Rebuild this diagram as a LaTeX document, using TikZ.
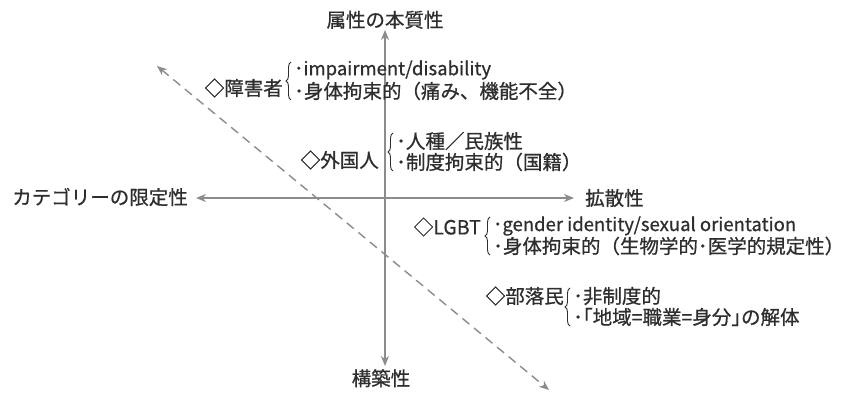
\documentclass[tikz,border=0pt]{standalone}
\usepackage{fontspec}
\setmainfont{Noto Sans CJK JP}
\newfontfamily\lblfont{Noto Sans CJK JP}[FakeBold=0.7]
\usetikzlibrary{arrows.meta,decorations.pathreplacing}
\definecolor{txt}{HTML}{2E2E2E}
\definecolor{axis}{HTML}{8C8C8C}
\tikzset{
  lbl/.style={inner sep=0pt, text=txt, font=\lblfont\fontsize{19.5}{22}\selectfont},
  latin/.style={lbl, font=\lblfont\fontsize{18.5}{22}\selectfont},
  axisline/.style={draw=axis, line width=1.4pt, -{Stealth[length=10pt,width=8pt]}},
  diag/.style={draw=axis, line width=1.4pt, dash pattern=on 9pt off 6pt, {Stealth[length=10pt,width=8pt]}-{Stealth[length=10pt,width=8pt]}},
  bracestyle/.style={draw=txt, line width=0.9pt, decorate, decoration={brace, amplitude=5pt}},
}
\begin{document}
\begin{tikzpicture}[x=1pt,y=-1pt]
\useasboundingbox[fill=white] (0,0) rectangle (844,393);
% axes
\coordinate (O) at (385,198);
\coordinate (top) at (385,30);
\coordinate (bot) at (385,366);
\coordinate (left) at (196,198);
\coordinate (right) at (574,198);
\draw[axisline] (O) -- (top);
\draw[axisline] (O) -- (bot);
\draw[axisline] (O) -- (left);
\draw[axisline] (O) -- (right);
\coordinate (d1) at (157,66);
\coordinate (d2) at (549,390);
\draw[diag] (d1) -- (d2);
% axis labels
\node[lbl, anchor=south] (ntop) at (385,29) {属性の本質性};
\node[lbl, anchor=north] (nbot) at (381,369) {構築性};
\node[lbl, anchor=east] (nleft) at (188,197) {カテゴリーの限定性};
\node[lbl, anchor=west] (nright) at (585,198) {拡散性};
% group 1: 障害者
\node[lbl, anchor=east] (g1) at (283,88) {◇障害者};
\node[latin, anchor=west] (g1a) at (294,70) {･impairment/disability};
\node[lbl, anchor=west] (g1b) at (294,91) {･身体拘束的（痛み、機能不全）};
\draw[bracestyle] (291,100) -- (291,62);
% group 2: 外国人
\node[lbl, anchor=east] (g2) at (379,160) {◇外国人};
\node[lbl, anchor=west] (g2a) at (396,141) {･人種／民族性};
\node[lbl, anchor=west] (g2b) at (396,162) {･制度拘束的（国籍）};
\draw[bracestyle] (393,171) -- (393,133);
% group 3: LGBT
\node[lbl, anchor=east] (g3) at (481,227) {◇LGBT};
\node[latin, anchor=west] (g3a) at (493,226) {･gender identity/sexual orientation};
\node[lbl, anchor=west] (g3b) at (493,246) {･身体拘束的（生物学的･医学的規定性）};
\draw[bracestyle] (490,255) -- (490,217);
% group 4: 部落民
\node[lbl, anchor=east] (g4) at (564,296) {◇部落民};
\node[lbl, anchor=west] (g4a) at (573,296) {･非制度的};
\node[lbl, anchor=west] (g4b) at (573,317) {･｢地域=職業=身分｣の解体};
\draw[bracestyle] (570,326) -- (570,288);
\end{tikzpicture}
\end{document}
